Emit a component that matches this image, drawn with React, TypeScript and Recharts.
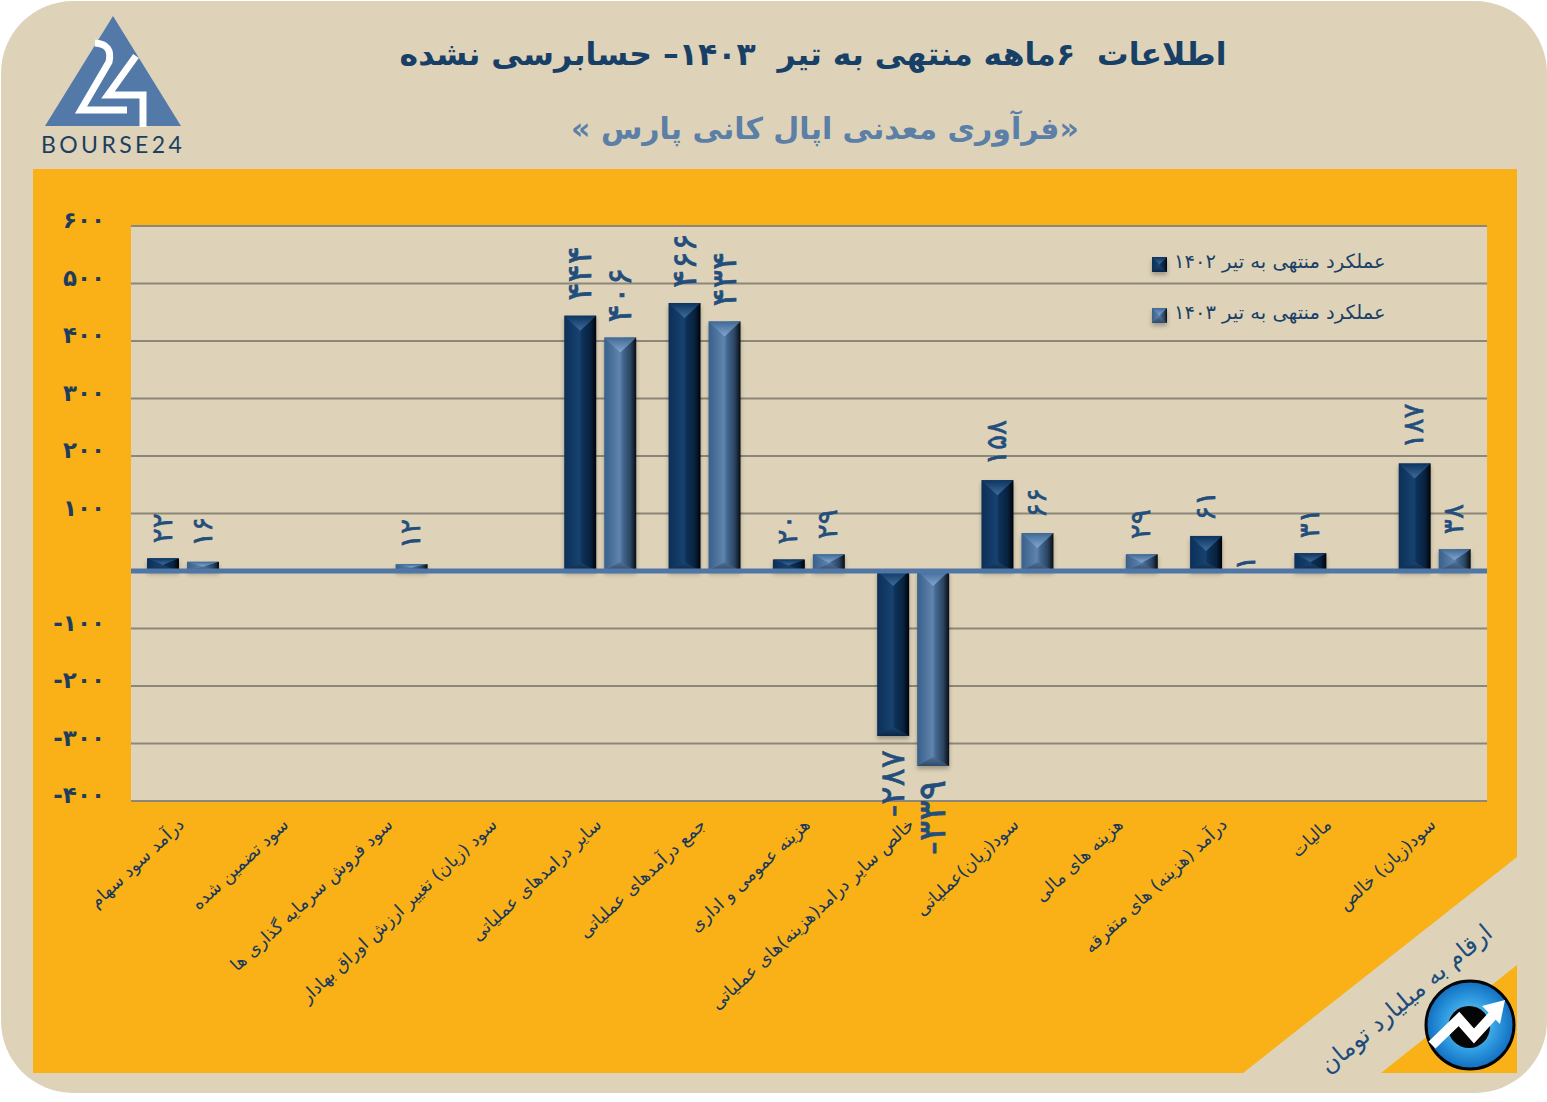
import { Bar, BarChart, CartesianGrid, LabelList, Legend, ReferenceLine, XAxis, YAxis } from 'recharts';

const categories = [
  'درآمد سود سهام',
  'سود تضمین شده',
  'سود فروش سرمایه گذاری ها',
  'سود (زیان) تغییر ارزش اوراق بهادار',
  'سایر درامدهای عملیاتی',
  'جمع درآمدهای عملیاتی',
  'هزینه عمومی و اداری',
  'خالص سایر درامد(هزینه)های عملیاتی',
  'سود(زیان)عملیاتی',
  'هزینه های مالی',
  'درآمد (هزینه) های متفرقه',
  'مالیات',
  'سود(زیان) خالص',
];
const values1402 = [22, null, null, null, 444, 466, 20, -287, 158, null, 61, 31, 187];
const values1403 = [16, null, 12, null, 406, 434, 29, -339, 66, 29, 1, null, 38];
const yTicks = [-400, -300, -200, -100, 0, 100, 200, 300, 400, 500, 600];
const name1402 = 'عملکرد منتهی به تیر ۱۴۰۲';
const name1403 = 'عملکرد منتهی به تیر ۱۴۰۳';

const data = categories.map((name, i) => ({ name, a: values1402[i], b: values1403[i] }));

const FONT = '"DejaVu Sans", sans-serif';
const PANEL = '#ded3b9';
const ORANGE = '#f9b117';
const NAVY = '#1a3f66';

const fa = (n: number) => String(n).replace(/\d/g, (d) => '۰۱۲۳۴۵۶۷۸۹'[Number(d)]);

// Pyramid-style bevel, same look as the office chart preset.
function BevelBar({ x, y, width, height, tone }: any) {
  if (!Number.isFinite(y) || !Number.isFinite(height) || Math.abs(height) < 1.5) return null;
  const top = Math.min(y, y + height);
  const h = Math.abs(height);
  const bottom = top + h;
  const d = Math.min(h / 2, 15);
  const d2 = Math.min(h * 0.45, 9);
  return (
    <g style={{ filter: 'drop-shadow(0 3px 2px rgba(0,0,0,0.28))' }}>
      <rect x={x} y={top} width={width} height={h} fill={`url(#${tone}Body)`} />
      <polygon points={`${x},${top} ${x + width},${top} ${x + width / 2},${top + d}`} fill={`url(#${tone}Top)`} />
      <polygon points={`${x},${bottom} ${x + width},${bottom} ${x + width / 2},${bottom - d2}`} fill={`url(#${tone}Bottom)`} />
    </g>
  );
}

function ValueLabel({ x, y, width, height, value }: any) {
  if (value == null) return null;
  const cx = x + width / 2 - 1;
  const neg = value < 0;
  const edge = neg ? Math.max(y, y + height) + 14 : Math.min(y, y + height) - (value < 5 ? 0 : 15);
  // labels in the source are stretched unevenly: bigger on the tall bars, biggest on the deepest loss
  const size = value < -300 ? 38 : Math.abs(value) >= 200 ? 34 : 28;
  return (
    <text
      transform={`translate(${cx},${edge}) rotate(-90)`}
      textAnchor={neg ? 'end' : 'start'}
      dominantBaseline="central"
      fontFamily={FONT}
      fontSize={size}
      fill="#234e7c"
      stroke="#234e7c"
      strokeWidth={0.6}
    >
      {fa(value)}
    </text>
  );
}

function YTick({ x, y, payload }: any) {
  if (payload.value === 0) return null;
  return (
    <text x={x - 20} y={y - 6} textAnchor="end" dominantBaseline="central" fontFamily={FONT} fontWeight="bold" fontSize={23} fill="#1e3d5c">
      {fa(payload.value)}
    </text>
  );
}

function XTick({ x, y, payload }: any) {
  return (
    <text
      transform={`translate(${x + 2},${y + 17}) rotate(-43)`}
      textAnchor="end"
      fontFamily={FONT}
      fontSize={17.5}
      fill="#17375c"
    >
      {payload.value}
    </text>
  );
}

function LegendBox({ payload }: any) {
  const tones = ['dark', 'light'];
  return (
    <div style={{ fontFamily: FONT, fontSize: 19.5, color: NAVY }}>
      {(payload || []).map((p: any, i: number) => (
        <div key={p.value} style={{ display: 'flex', alignItems: 'center', height: 51 }}>
          <svg width={15} height={15} style={{ marginRight: 7, marginTop: 6, overflow: 'visible' }}>
            <BevelBar x={0} y={0} width={15} height={15} tone={tones[i]} />
          </svg>
          <span dir="rtl" style={{ whiteSpace: 'nowrap' }}>{p.value}</span>
        </div>
      ))}
    </div>
  );
}

function Gradients() {
  return (
    <defs>
      <linearGradient id="darkBody" x1="0" y1="0" x2="1" y2="0">
        <stop offset="0%" stopColor="#0c2f58" />
        <stop offset="48%" stopColor="#174270" />
        <stop offset="55%" stopColor="#0d3259" />
        <stop offset="82%" stopColor="#08223f" />
        <stop offset="100%" stopColor="#000208" />
      </linearGradient>
      <linearGradient id="darkTop" x1="0" y1="0" x2="0" y2="1">
        <stop offset="0%" stopColor="#0d3460" />
        <stop offset="100%" stopColor="#3f6c9a" />
      </linearGradient>
      <linearGradient id="darkBottom" x1="0" y1="0" x2="0" y2="1">
        <stop offset="0%" stopColor="#1c4670" />
        <stop offset="100%" stopColor="#0a2645" />
      </linearGradient>
      <linearGradient id="lightBody" x1="0" y1="0" x2="1" y2="0">
        <stop offset="0%" stopColor="#38608a" />
        <stop offset="48%" stopColor="#5f84ae" />
        <stop offset="58%" stopColor="#436892" />
        <stop offset="82%" stopColor="#2b445f" />
        <stop offset="100%" stopColor="#070c12" />
      </linearGradient>
      <linearGradient id="lightTop" x1="0" y1="0" x2="0" y2="1">
        <stop offset="0%" stopColor="#3f6a96" />
        <stop offset="100%" stopColor="#84a6ce" />
      </linearGradient>
      <linearGradient id="lightBottom" x1="0" y1="0" x2="0" y2="1">
        <stop offset="0%" stopColor="#4f7096" />
        <stop offset="100%" stopColor="#304b69" />
      </linearGradient>
    </defs>
  );
}

function Backdrop() {
  return (
    <svg width={1547} height={1102} style={{ position: 'absolute', left: 0, top: 0 }}>
      <defs>
        <radialGradient id="coinBlue" cx="50%" cy="50%" r="55%">
          <stop offset="0%" stopColor="#8ad6f5" />
          <stop offset="55%" stopColor="#2f9be0" />
          <stop offset="100%" stopColor="#0a62b8" />
        </radialGradient>
      </defs>
      <rect x={1} y={1} width={1546} height={1092} rx={72} fill={PANEL} />
      <polygon points="33,169 1517,169 1517,857 1243,1073 33,1073" fill={ORANGE} />
      <polygon points="1517,965 1517,1073 1381,1073" fill={ORANGE} />

      {/* bourse24 logo */}
      <polygon points="113,16 181,126 45,126" fill="#5279a8" />
      <path d="M95 43 Q113 44 109 62 L81 110 L127 110" fill="none" stroke="#fff" strokeWidth={7} />
      <path d="M136 56 L108 95 L143 95 L143 127" fill="none" stroke="#fff" strokeWidth={7} />
      <text x={41} y={153} fontFamily="Lato, sans-serif" fontSize={23} letterSpacing={3.4} fill="#1d3f5f">BOURSE24</text>

      {/* unit note */}
      <text
        transform="translate(1411,1005) rotate(-40)"
        textAnchor="middle"
        fontFamily={FONT}
        fontSize={24}
        fill="#1d4b7c"
      >
        ارقام به میلیارد تومان
      </text>

      {/* round badge */}
      <circle cx={1470} cy={1025} r={44} fill="url(#coinBlue)" stroke="#050505" strokeWidth={3} />
      <circle cx={1469} cy={1027} r={21} fill="#050505" />
      <polyline points="1432,1045 1459,1019 1474,1036 1496,1012" fill="none" stroke="#fff" strokeWidth={10} />
      <polygon points="1505,1000 1500,1024 1482,1006" fill="#fff" />
    </svg>
  );
}

export default function App() {
  return (
    <div style={{ position: 'absolute', left: 0, top: 0, width: 1547, height: 1102, background: '#fff', overflow: 'hidden' }}>
      <Backdrop />
      <div
        dir="rtl"
        style={{ position: 'absolute', left: 300, width: 1026, top: 36, textAlign: 'center', fontFamily: FONT, fontWeight: 'bold', fontSize: 31.5, color: '#183f66', whiteSpace: 'pre' }}
      >
        {'اطلاعات  ۶ماهه منتهی به تیر  ۱۴۰۳– حسابرسی نشده'}
      </div>
      <div
        dir="rtl"
        style={{ position: 'absolute', left: 325, width: 1000, top: 111, textAlign: 'center', fontFamily: FONT, fontWeight: 'bold', fontSize: 30, color: '#5b7fa6', whiteSpace: 'pre' }}
      >
        {'«فرآوری معدنی اپال کانی پارس »'}
      </div>
      <div style={{ position: 'absolute', left: 0, top: 0 }}>
        <BarChart
          width={1547}
          height={1102}
          data={data}
          barSize={32}
          barGap={8}
          margin={{ top: 226, right: 60, bottom: 241, left: 31 }}
        >
          <Gradients />
          <CartesianGrid horizontal vertical={false} stroke="#8c8779" strokeWidth={2} fill={PANEL} />
          <XAxis dataKey="name" height={60} interval={0} axisLine={false} tickLine={false} tick={<XTick />} />
          <YAxis
            width={100}
            domain={[-400, 600]}
            ticks={yTicks}
            interval={0}
            axisLine={false}
            tickLine={false}
            tickMargin={0}
            tick={<YTick />}
          />
          {/* centre + middle keeps the legend from eating into the plot margins */}
          <Legend
            layout="vertical"
            align="center"
            verticalAlign="middle"
            wrapperStyle={{ left: 1152, top: 236, width: 260 }}
            content={<LegendBox />}
          />
          <Bar dataKey="a" name={name1402} fill="#12365f" isAnimationActive={false} shape={(p: any) => <BevelBar {...p} tone="dark" />}>
            <LabelList dataKey="a" content={<ValueLabel />} />
          </Bar>
          <Bar dataKey="b" name={name1403} fill="#4a6f99" isAnimationActive={false} shape={(p: any) => <BevelBar {...p} tone="light" />}>
            <LabelList dataKey="b" content={<ValueLabel />} />
          </Bar>
          <ReferenceLine y={0} stroke="#4f76a5" strokeWidth={5} />
        </BarChart>
      </div>
    </div>
  );
}
